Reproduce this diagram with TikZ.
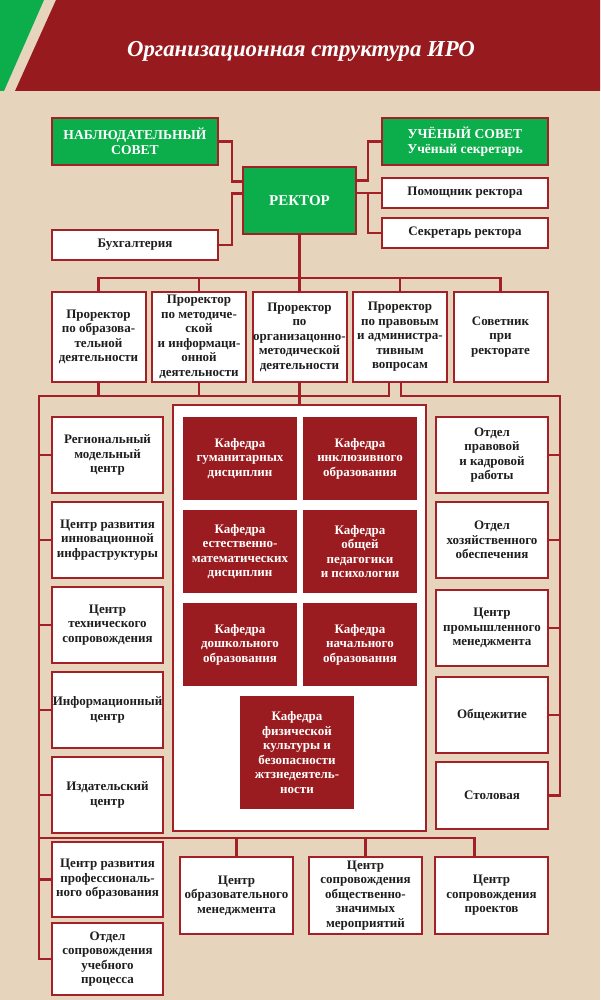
\documentclass[tikz,border=0pt]{standalone}
\usepackage{fontspec}
\setmainfont{Liberation Serif}
\usetikzlibrary{positioning}
\definecolor{iroband}{RGB}{151,27,30}
\definecolor{irogreen}{RGB}{12,174,76}
\definecolor{iroline}{RGB}{163,33,38}
\definecolor{irochair}{RGB}{155,28,32}
\definecolor{irobeige}{RGB}{230,212,189}
\definecolor{irotext}{RGB}{30,30,30}

\begin{document}
\begin{tikzpicture}[x=1pt,y=-1pt,every node/.style={transform shape,outer sep=0pt}]
  \tikzstyle{boss}=[draw=iroline,line width=2pt,fill=irogreen,align=center,text=white,
    inner sep=1pt,font=\fontsize{13.6}{15.5}\selectfont\bfseries]
  \tikzstyle{unit}=[draw=iroline,line width=2pt,fill=white,align=center,text=irotext,
    inner sep=0pt,font=\fontsize{13}{14.5}\selectfont\bfseries]
  \tikzstyle{chair}=[fill=irochair,align=center,text=white,inner sep=1pt,
    minimum width=114pt,minimum height=83pt,font=\fontsize{13}{14.5}\selectfont\bfseries]
  \tikzstyle{link}=[iroline,line width=2.2pt]

  \useasboundingbox (0,0) rectangle (600,1000);
  \fill[irobeige] (0,0) rectangle (600,1000);

  % -- Header band --
  \fill[irogreen] (0,0) -- (44,0) -- (4,91) -- (0,91) -- cycle;
  \fill[iroband] (56,0) -- (600,0) -- (600,91) -- (15,91) -- cycle;
  \node[text=white,font=\fontsize{22.8}{26}\selectfont\bfseries\itshape] (title) at (301,51)
    {Организационная структура ИРО};

  % -- Rector and the boxes round it --
  \node[boss,minimum width=113pt,minimum height=67pt,font=\fontsize{15}{17}\selectfont\bfseries] (rector) at (299.5,200.5) {РЕКТОР};
  \node[boss,minimum width=166pt,minimum height=47pt] (nab) at (135,141.5) {НАБЛЮДАТЕЛЬНЫЙ\\СОВЕТ};
  \node[boss,minimum width=166pt,minimum height=47pt] (uch) at (465,141.5) {УЧЁНЫЙ СОВЕТ\\Учёный секретарь};
  \node[unit,minimum width=166pt,minimum height=30pt] (buh) at (135,245) {Бухгалтерия};
  \node[unit,minimum width=166pt,minimum height=30pt] (pom) at (465,193) {Помощник ректора};
  \node[unit,minimum width=166pt,minimum height=30pt,below=10pt of pom] (sec) {Секретарь ректора};

  % -- Prorectors --
  \tikzstyle{prorector}=[unit,minimum width=94pt,minimum height=90pt]
  \node[prorector] (pr3) at (299.5,337) {Проректор\\по\\организацонно-\\методической\\деятельности};
  \node[prorector,left=6.5pt of pr3] (pr2) {Проректор\\по методиче-\\ской\\и информаци-\\онной\\деятельности};
  \node[prorector,left=6.5pt of pr2] (pr1) {Проректор\\по образова-\\тельной\\деятельности};
  \node[prorector,right=6.5pt of pr3] (pr4) {Проректор\\по правовым\\и администра-\\тивным\\вопросам};
  \node[prorector,right=6.5pt of pr4] (pr5) {Советник\\при\\ректорате};

  % -- Chairs (inside the white frame) --
  \node[draw=iroline,line width=2pt,fill=white,minimum width=253pt,minimum height=426pt] (kafbox) at (299.5,618) {};
  \node[chair] (k1) at (240,458.5) {Кафедра\\гуманитарных\\дисциплин};
  \node[chair,right=6pt of k1] (k2) {Кафедра\\инклюзивного\\образования};
  \node[chair,below=10pt of k1] (k3) {Кафедра\\естественно-\\математических\\дисциплин};
  \node[chair,below=10pt of k2] (k4) {Кафедра\\общей\\педагогики\\и психологии};
  \node[chair,below=10pt of k3] (k5) {Кафедра\\дошкольного\\образования};
  \node[chair,below=10pt of k4] (k6) {Кафедра\\начального\\образования};
  \node[chair,minimum height=113pt] (k7) at (297,752.5)
    {Кафедра\\физической\\культуры и\\безопасности\\жтзнедеятель-\\ности};

  % -- Left column --
  \tikzstyle{side}=[unit,minimum width=111pt,minimum height=76pt]
  \node[side] (reg) at (107.5,455) {Региональный\\модельный\\центр};
  \node[side,below=9pt of reg] (inno) {Центр развития\\инновационной\\инфраструктуры};
  \node[side,below=9pt of inno] (tech) {Центр\\технического\\сопровождения};
  \node[side,below=9pt of tech] (info) {Информационный\\центр};
  \node[side,below=9pt of info] (izd) {Издательский\\центр};
  \node[side,below=9pt of izd,minimum height=75pt] (prof) {Центр развития\\профессиональ-\\ного образования};
  \node[side,below=6pt of prof,minimum height=72pt] (otdsop) {Отдел\\сопровождения\\учебного\\процесса};

  % -- Right column --
  \node[side,minimum width=112pt] (prav) at (492,455) {Отдел\\правовой\\и кадровой\\работы};
  \node[side,minimum width=112pt,below=9pt of prav] (hoz) {Отдел\\хозяйственного\\обеспечения};
  \node[side,minimum width=112pt,below=12pt of hoz] (prom) {Центр\\промышленного\\менеджмента};
  \node[side,minimum width=112pt,below=11pt of prom] (obsh) {Общежитие};
  \node[side,minimum width=112pt,minimum height=67pt,below=9pt of obsh] (stol) {Столовая};

  % -- Bottom row --
  \tikzstyle{lower}=[unit,minimum width=113pt,minimum height=77pt]
  \node[lower] (cobr) at (236.5,895.5) {Центр\\образовательного\\менеджмента};
  \node[lower,right=16pt of cobr] (com) {Центр\\сопровождения\\общественно-\\значимых\\мероприятий};
  \node[lower,right=13pt of com] (cpr) {Центр\\сопровождения\\проектов};

  % -- Links round the rector --
  \draw[link] (nab.east) -- ++(14,0) |- ([yshift=19pt]rector.west);
  \draw[link] (buh.east) -- ++(14,0) |- ([yshift=7pt]rector.west);
  \draw[link] ([yshift=20pt]rector.east) -- ++(12,0) |- (uch.west);
  \draw[link] (rector.east |- pom.west) -- (pom.west);
  \draw[link] ([xshift=12pt]rector.east |- pom.west) |- (sec.west);

  % -- Rector to prorectors --
  \draw[link] (rector.south) -- (pr3.north);
  \draw[link] (pr1.north) -- ++(0,-14) -| (pr5.north);
  \draw[link] (pr2.north) -- ++(0,-14);
  \draw[link] (pr4.north) -- ++(0,-14);

  % -- Prorectors down to the columns --
  \coordinate (lbus) at (39,396);
  \coordinate (rbus) at (560,396);
  \coordinate (bbus) at (39,838);
  \draw[link] ([xshift=-11pt]pr4.south) |- (lbus) |- (otdsop.west);
  \draw[link] (pr1.south) -- (pr1.south |- lbus);
  \draw[link] (pr2.south) -- (pr2.south |- lbus);
  \draw[link] (pr3.south) -- (kafbox.north);
  \draw[link] ([xshift=1pt]pr4.south) |- (rbus) |- (stol.east);
  \foreach \n in {reg,inno,tech,info,izd,prof}
    \draw[link] (lbus |- \n.west) -- (\n.west);
  \foreach \n in {prav,hoz,prom,obsh}
    \draw[link] (rbus |- \n.east) -- (\n.east);

  % -- Bottom bus --
  \draw[link] (bbus) -| ([xshift=-17pt]cpr.north);
  \draw[link] (cobr.north) -- (cobr.north |- bbus);
  \draw[link] (com.north) -- (com.north |- bbus);
\end{tikzpicture}
\end{document}
